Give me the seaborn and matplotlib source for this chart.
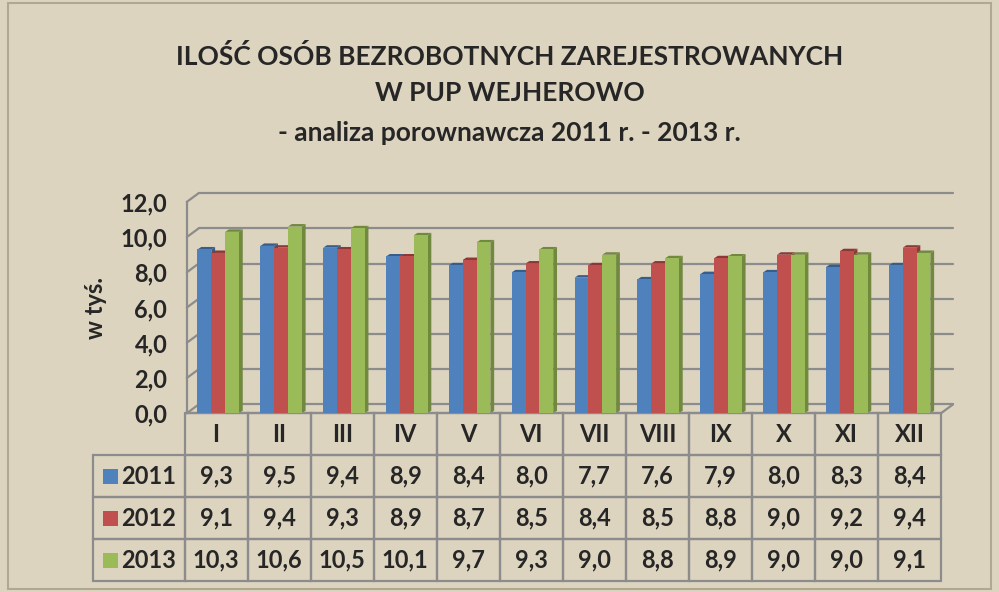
import matplotlib
matplotlib.use("Agg")
from matplotlib import pyplot as plt
from matplotlib.ticker import FuncFormatter
from matplotlib.patches import Polygon, Rectangle
import seaborn as sns
import pandas as pd

months = ["I", "II", "III", "IV", "V", "VI", "VII", "VIII", "IX", "X", "XI", "XII"]
years = ["2011", "2012", "2013"]
v2011 = [9.3, 9.5, 9.4, 8.9, 8.4, 8.0, 7.7, 7.6, 7.9, 8.0, 8.3, 8.4]
v2012 = [9.1, 9.4, 9.3, 8.9, 8.7, 8.5, 8.4, 8.5, 8.8, 9.0, 9.2, 9.4]
v2013 = [10.3, 10.6, 10.5, 10.1, 9.7, 9.3, 9.0, 8.8, 8.9, 9.0, 9.0, 9.1]
colors = ["#4f81bd", "#c0504d", "#9bbb59"]
side_colors = ["#385d8a", "#8c3836", "#71893f"]
yticks = [0, 2, 4, 6, 8, 10, 12]

df = pd.DataFrame({
    "month": months * 3,
    "year": [y for y in years for _ in months],
    "value": v2011 + v2012 + v2013,
})

bg = "#ddd4c0"
grid_c = "#8c8c8c"
sns.set_style("white")
plt.rcParams["font.family"] = ["Lato", "DejaVu Sans"]
plt.rcParams["font.weight"] = "bold"
fs = 17

fig = plt.figure(figsize=(9.99, 5.92), dpi=100)
fig.set_facecolor(bg)
ax = fig.add_axes([0.187, 0.302, 0.755, 0.357])
ax.set_facecolor("none")

sns.barplot(data=df, x="month", y="value", hue="year", order=months,
            hue_order=years, palette=colors, width=0.66, saturation=1,
            legend=False, ax=ax, zorder=3, edgecolor="none", linewidth=0)

# fake 3d depth on every bar
dx, dy = 0.06, 0.14
hexes = [matplotlib.colors.to_hex(c) for c in colors]
for patch in list(ax.patches):
    idx = hexes.index(matplotlib.colors.to_hex(patch.get_facecolor()))
    x0, w, h = patch.get_x(), patch.get_width(), patch.get_height()
    side = Polygon([(x0 + w, 0), (x0 + w + dx, dy), (x0 + w + dx, h + dy), (x0 + w, h)],
                   closed=True, facecolor=side_colors[idx], edgecolor="none", zorder=2)
    top = Polygon([(x0, h), (x0 + dx, h + dy), (x0 + w + dx, h + dy), (x0 + w, h)],
                  closed=True, facecolor=side_colors[idx], edgecolor="none", zorder=2)
    ax.add_patch(side)
    ax.add_patch(top)

ax.set_ylim(0, 12)
ax.set_xlim(-0.5, 11.5)
ax.set_yticks(yticks)
ax.yaxis.set_major_formatter(FuncFormatter(lambda v, p: f"{v:.1f}".replace(".", ",")))
ax.tick_params(axis="y", labelsize=fs, length=0, pad=14)
ax.tick_params(axis="x", length=0, labelbottom=False)
for s in ["top", "right"]:
    ax.spines[s].set_visible(False)
for s in ["left", "bottom"]:
    ax.spines[s].set_color(grid_c)
    ax.spines[s].set_linewidth(1.6)
ax.set_xlabel("")
ax.set_ylabel("w tyś.", fontsize=fs, fontweight="bold", labelpad=10)

# back wall gridlines, shifted for the 3d look
ox, oy = 0.19, 0.5
x_lo, x_hi = -0.5, 11.5
for y in yticks:
    ax.plot([x_lo + ox, x_hi + ox], [y + oy, y + oy], color=grid_c, lw=1.6,
            zorder=0, clip_on=False)
    ax.plot([x_lo, x_lo + ox], [y, y + oy], color=grid_c, lw=1.6, zorder=0, clip_on=False)
ax.plot([x_hi, x_hi + ox], [0, oy], color=grid_c, lw=1.6, zorder=0, clip_on=False)

def fmt(v):
    return f"{v:.1f}".replace(".", ",")

# table geometry (matplotlib fits only the data cells into bbox)
lab_w, col_w = 91, 63
total_w = lab_w + 12 * col_w
grid_left, grid_w = -0.003, 1.003
l0 = lab_w / total_w
scale = grid_w / (12 * col_w / total_w)
rl = grid_left - l0 * (scale - 1)

cell_text = [[fmt(v) for v in row] for row in (v2011, v2012, v2013)]
tbl = ax.table(cellText=cell_text, rowLabels=years, colLabels=months,
               cellLoc="center", rowLoc="right",
               bbox=[rl, -0.796, grid_w, 0.796])
tbl.auto_set_font_size(False)
tbl._autoColumns = []
for (r, c), cell in tbl.get_celld().items():
    cell.set_width((lab_w if c == -1 else col_w) / total_w)
    cell.set_facecolor("none")
    cell.set_edgecolor(grid_c)
    cell.set_linewidth(1.6)
    cell.get_text().set_fontsize(fs)
    cell.get_text().set_fontweight("bold")
    if c == -1:
        cell.PAD = 0.09

# colored legend keys in the row label cells
row_h = 0.796 / 4
for i, col in enumerate(colors):
    yc = -row_h * (i + 1.5)
    ax.add_patch(Rectangle((-0.111, yc - 0.035), 0.0195, 0.07, transform=ax.transAxes,
                           facecolor=col, edgecolor="none", clip_on=False, zorder=5))

title_kw = dict(ha="center", va="center", fontsize=19, fontweight="bold")
fig.text(0.51, 0.905, "ILOŚĆ OSÓB BEZROBOTNYCH ZAREJESTROWANYCH", **title_kw)
fig.text(0.51, 0.843, "W PUP WEJHEROWO", **title_kw)
fig.text(0.51, 0.775, "- analiza porownawcza 2011 r. - 2013 r.", **title_kw)

fig.patches.append(Rectangle((0.008, 0.005), 0.984, 0.99, transform=fig.transFigure,
                             facecolor="none", edgecolor="#b0a890", linewidth=1.5))

fig.savefig("out.png", dpi=100, facecolor=bg)
